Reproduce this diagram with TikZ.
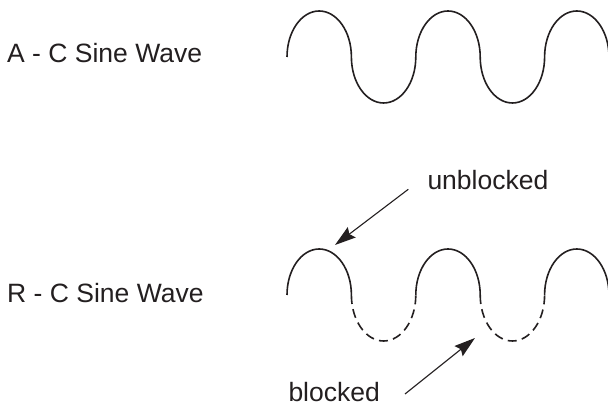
\documentclass[tikz,border=0pt]{standalone}
\usepackage{fontspec}
\setmainfont{Liberation Sans}
\usetikzlibrary{arrows.meta}
\definecolor{ink}{HTML}{231F20}
\begin{document}
\begin{tikzpicture}[x=1pt,y=1pt,
  wave/.style={draw=ink, line width=1.6pt, line join=round},
  blockedpart/.style={wave, dash pattern=on 9pt off 5.3pt},
  wavetext/.style={inner sep=0pt, anchor=base west, text=ink,
    font=\fontsize{26.5}{31}\selectfont},
  pointer/.style={draw=ink, line width=1.1pt,
    -{Stealth[length=21pt,width=13pt,inset=3pt]}}]
\useasboundingbox (0,0) rectangle (608,406);
\clip (0,0) rectangle (608,406);
\def\rx{32.2}\def\ry{46}
\tikzset{
  crest/.style={start angle=180, end angle=0, x radius=\rx, y radius=\ry},
  dip/.style={start angle=180, end angle=360, x radius=\rx, y radius=\ry}}

% labels
\node[wavetext] (ac) at (7,343.3) {A - C Sine Wave};
\node[wavetext] (rc) at (7,103.3) {R - C Sine Wave};
\node[wavetext] (ub) at (427.3,216.7) {unblocked};
\node[wavetext] (bl) at (288.3,4.5) {blocked};

% full A-C wave
\draw[wave] (287,349) arc[crest] arc[dip] arc[crest] arc[dip] arc[crest];

% R-C wave: crests pass, dips are blocked
\draw[wave] (287,111) arc[crest];
\draw[blockedpart] (351.4,111) arc[dip];
\draw[wave] (415.8,111) arc[crest];
\draw[blockedpart] (480.2,111) arc[dip];
\draw[wave] (544.6,111) arc[crest];

% pointers
\coordinate (ubtail) at (408.3,216.7);
\coordinate (ubtip) at (335,161);
\coordinate (bltail) at (405,12);
\coordinate (bltip) at (475,68);
\draw[pointer] (ubtail) -- (ubtip);
\draw[pointer] (bltail) -- (bltip);
\end{tikzpicture}
\end{document}
